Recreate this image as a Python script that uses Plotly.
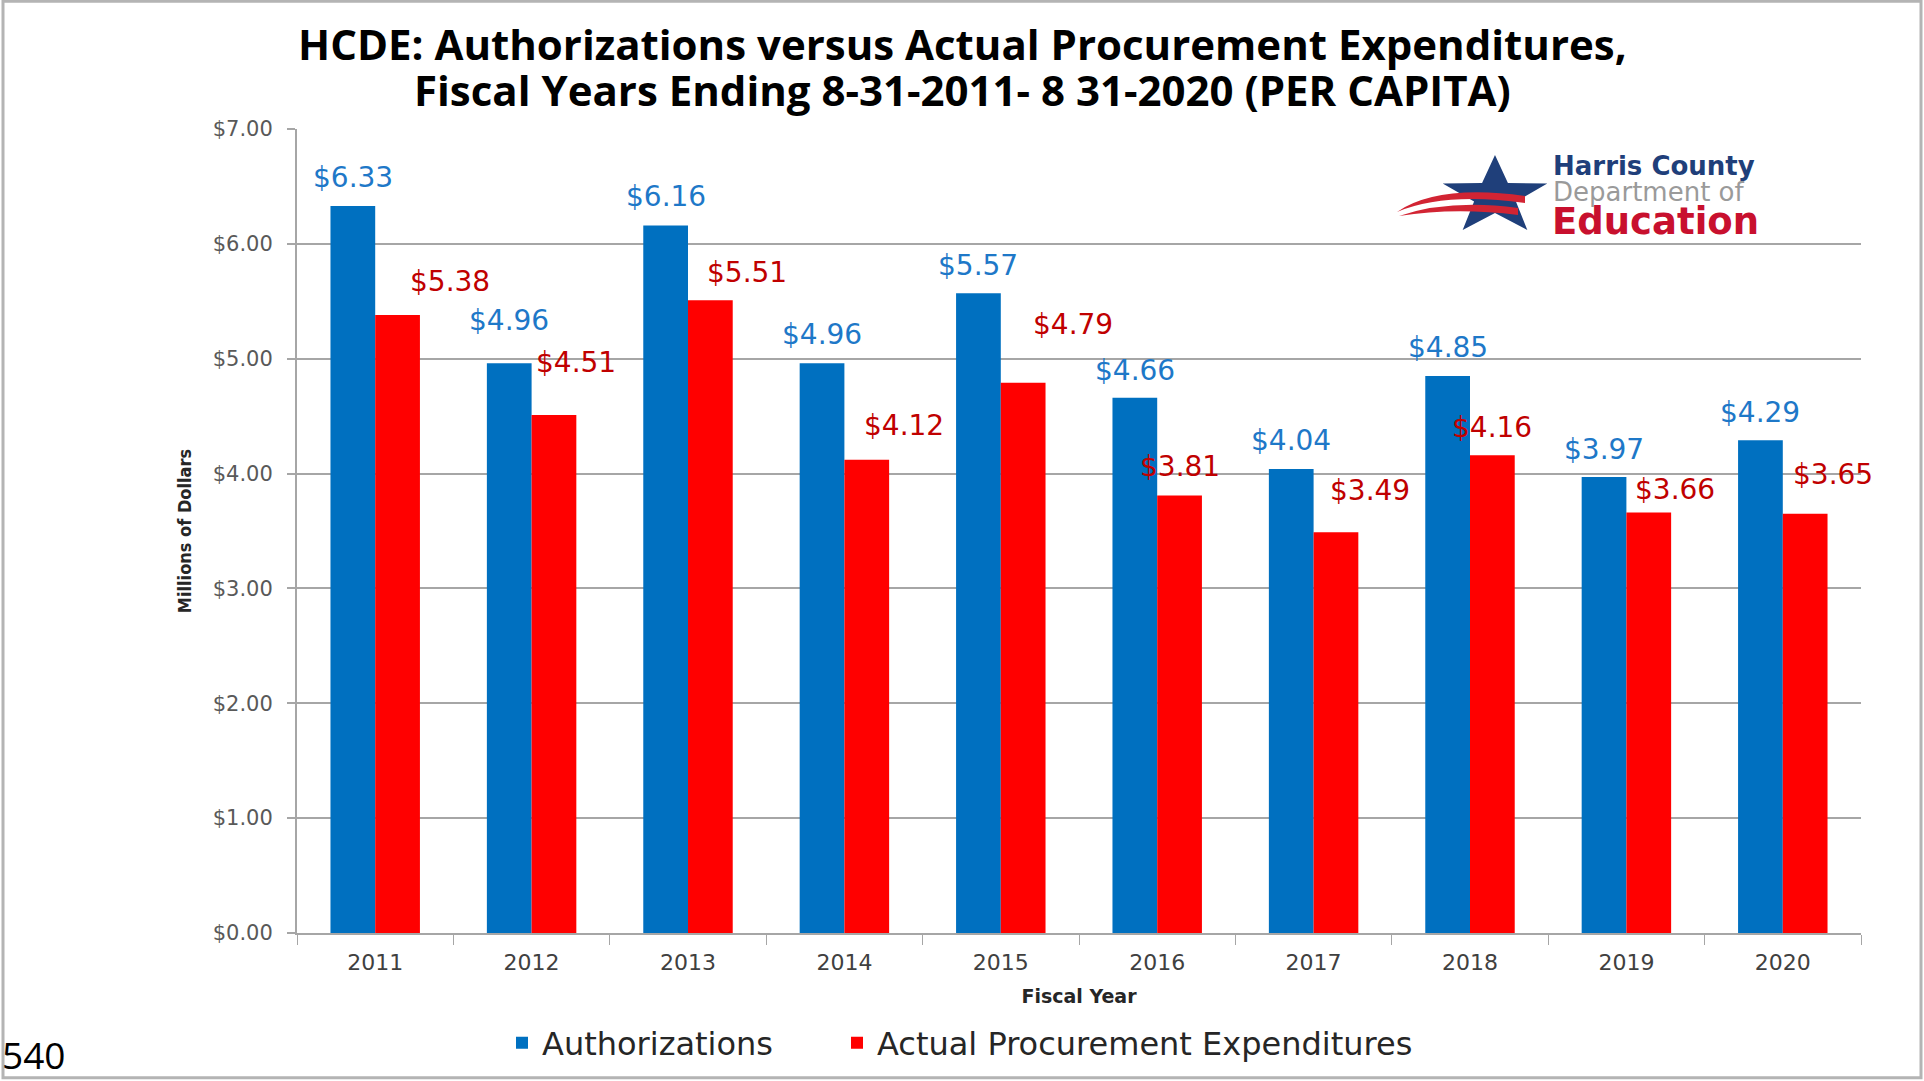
import math
import plotly.graph_objects as go

# ---------------- data ----------------
years = ["2011", "2012", "2013", "2014", "2015", "2016", "2017", "2018", "2019", "2020"]
authorizations = [6.33, 4.96, 6.16, 4.96, 5.57, 4.66, 4.04, 4.85, 3.97, 4.29]
actual_expenditures = [5.38, 4.51, 5.51, 4.12, 4.79, 3.81, 3.49, 4.16, 3.66, 3.65]
y_ticks = [0, 1, 2, 3, 4, 5, 6, 7]
y_tick_labels = ["$0.00", "$1.00", "$2.00", "$3.00", "$4.00", "$5.00", "$6.00", "$7.00"]

# label offsets in pixels (label styling only)
blue_label_dy = [28, 43, 29, 29, 28, 27, 28, 28, 28, 28]
red_label_dx = [52, 22, 37, 37, 50, 0, 34, 0, 26, 28]
red_label_dy = [34, 52, 28, 34, 58, 29, 42, 28, 23, 39]

# ---------------- layout geometry ----------------
W, H = 1924, 1081
ML, MR, MT, MB = 297, 63, 129, 147
PW = W - ML - MR
PH = H - MT - MB
BARGAP = 0.428
cat_w = PW / len(years)
bar_w = cat_w * (1 - BARGAP) / 2


def px(x):
    return (x - ML) / PW


def py(y):
    return (H - MB - y) / PH


BLUE = "#0070C0"
RED = "#FF0000"
GRID = "#a6a6a6"
NARROW = "Liberation Sans Narrow, DejaVu Sans Condensed, Arial Narrow, sans-serif"

fig = go.Figure()
fig.add_trace(go.Bar(x=years, y=authorizations, name="Authorizations",
                     marker=dict(color=BLUE, line=dict(width=0)), legend="legend"))
fig.add_trace(go.Bar(x=years, y=actual_expenditures, name="Actual Procurement Expenditures",
                     marker=dict(color=RED, line=dict(width=0)), legend="legend2"))

annotations = []
for i, yr in enumerate(years):
    # category axes take the serial index of the category for annotations
    annotations.append(dict(
        x=i, y=authorizations[i], xref="x", yref="y",
        text=f"${authorizations[i]:.2f}", showarrow=False,
        xshift=-bar_w / 2, yshift=blue_label_dy[i], yanchor="middle", xanchor="center",
        font=dict(family="DejaVu Sans", size=28, color="#1E78C8")))
    annotations.append(dict(
        x=i, y=actual_expenditures[i], xref="x", yref="y",
        text=f"${actual_expenditures[i]:.2f}", showarrow=False,
        xshift=bar_w / 2 + red_label_dx[i], yshift=red_label_dy[i],
        yanchor="middle", xanchor="center",
        font=dict(family="DejaVu Sans", size=28, color="#C00000")))

# title (two centred lines)
annotations.append(dict(x=px(962), y=py(43), xref="paper", yref="paper",
                        text="<b>HCDE: Authorizations versus Actual Procurement Expenditures,</b>",
                        showarrow=False, xanchor="center", yanchor="middle",
                        font=dict(family="Open Sans", size=42, color="#000000")))
annotations.append(dict(x=px(962), y=py(89), xref="paper", yref="paper",
                        text="<b>Fiscal Years Ending 8-31-2011- 8 31-2020 (PER CAPITA)</b>",
                        showarrow=False, xanchor="center", yanchor="middle",
                        font=dict(family="Open Sans", size=42, color="#000000")))

# page number
annotations.append(dict(x=px(0), y=py(1056), xref="paper", yref="paper", text="540",
                        showarrow=False, xanchor="left", yanchor="middle",
                        font=dict(family="Open Sans", size=37, color="#000000")))

# logo text
annotations.append(dict(x=px(1551), y=py(166), xref="paper", yref="paper",
                        text="<b>Harris County</b>", showarrow=False, xanchor="left", yanchor="middle",
                        font=dict(family="DejaVu Sans", size=26, color="#1F3F7A")))
annotations.append(dict(x=px(1551), y=py(192), xref="paper", yref="paper",
                        text="Department of", showarrow=False, xanchor="left", yanchor="middle",
                        font=dict(family="DejaVu Sans", size=26, color="#9a9a9a")))
annotations.append(dict(x=px(1550), y=py(222), xref="paper", yref="paper",
                        text="<b>Education</b>", showarrow=False, xanchor="left", yanchor="middle",
                        font=dict(family="DejaVu Sans", size=37, color="#C8102E")))

shapes = []
# slide frame
shapes.append(dict(type="rect", xref="paper", yref="paper",
                   x0=px(3), x1=px(1921), y0=py(1079), y1=py(1),
                   line=dict(color="#b4b4b4", width=3), layer="below"))

# star
cx, cy, rx, ry = 1495, 196.5, 55, 41.5
pts = []
for k in range(10):
    ang = -math.pi / 2 + k * math.pi / 5
    r = 1.0 if k % 2 == 0 else 0.40
    pts.append((cx + rx * r * math.cos(ang), cy + ry * r * math.sin(ang)))
path = "M " + " L ".join(f"{px(x):.5f},{py(y):.5f}" for x, y in pts) + " Z"
shapes.append(dict(type="path", xref="paper", yref="paper", path=path,
                   fillcolor="#1F3F7A", line=dict(width=0)))


def swoosh(p0, c1, p1, p2, c3, p3):
    def f(p):
        return f"{px(p[0]):.5f},{py(p[1]):.5f}"
    return f"M {f(p0)} Q {f(c1)} {f(p1)} L {f(p2)} Q {f(c3)} {f(p3)} Z"


shapes.append(dict(type="path", xref="paper", yref="paper",
                   path=swoosh((1397, 212), (1438, 184), (1525, 196), (1525, 203), (1445, 192), (1397, 212)),
                   fillcolor="#D22433", line=dict(width=0)))
shapes.append(dict(type="path", xref="paper", yref="paper",
                   path=swoosh((1399, 216), (1450, 199), (1518, 208), (1518, 215), (1455, 207), (1399, 216)),
                   fillcolor="#D22433", line=dict(width=0)))

legend_font = dict(family="DejaVu Sans", size=32, color="#262626")
fig.update_layout(
    width=W, height=H, autosize=False,
    margin=dict(l=ML, r=MR, t=MT, b=MB, pad=0),
    paper_bgcolor="white", plot_bgcolor="white",
    barmode="group", bargap=BARGAP, bargroupgap=0,
    showlegend=True,
    legend=dict(orientation="h", x=px(502), y=py(1043), xref="paper", yref="paper",
                xanchor="left", yanchor="middle", font=legend_font,
                bgcolor="rgba(0,0,0,0)"),
    legend2=dict(orientation="h", x=px(837), y=py(1043), xref="paper", yref="paper",
                 xanchor="left", yanchor="middle", font=legend_font,
                 bgcolor="rgba(0,0,0,0)"),
    annotations=annotations,
    shapes=shapes,
)

fig.update_xaxes(
    type="category", range=[-0.5, len(years) - 0.5], autorange=False,
    tickson="boundaries", ticks="outside", ticklen=10, tickwidth=1,
    tickcolor=GRID, showline=True, linecolor=GRID, linewidth=2, showgrid=False,
    tickangle=0, ticklabelstandoff=9,
    tickfont=dict(family="DejaVu Sans", size=22, color="#404040"),
    title=dict(text="<b>Fiscal Year</b>", standoff=15,
               font=dict(family="DejaVu Sans", size=19, color="#262626")),
    automargin=False,
)
fig.update_yaxes(
    range=[0, 7], autorange=False, tickmode="array", tickvals=y_ticks, ticktext=y_tick_labels,
    ticks="outside", ticklen=8, tickwidth=2, tickcolor=GRID,
    showline=True, linecolor=GRID, linewidth=2,
    showgrid=True, gridcolor=GRID, gridwidth=2, zeroline=False,
    ticklabelstandoff=10,
    tickfont=dict(family="DejaVu Sans", size=21, color="#595959"),
    title=dict(text="<b>Millions of Dollars</b>", standoff=16,
               font=dict(family=NARROW, size=18, color="#262626")),
    automargin=False,
)

fig.write_html("out.html", config={"displayModeBar": False},
               post_script="document.body.style.margin='0px';")
